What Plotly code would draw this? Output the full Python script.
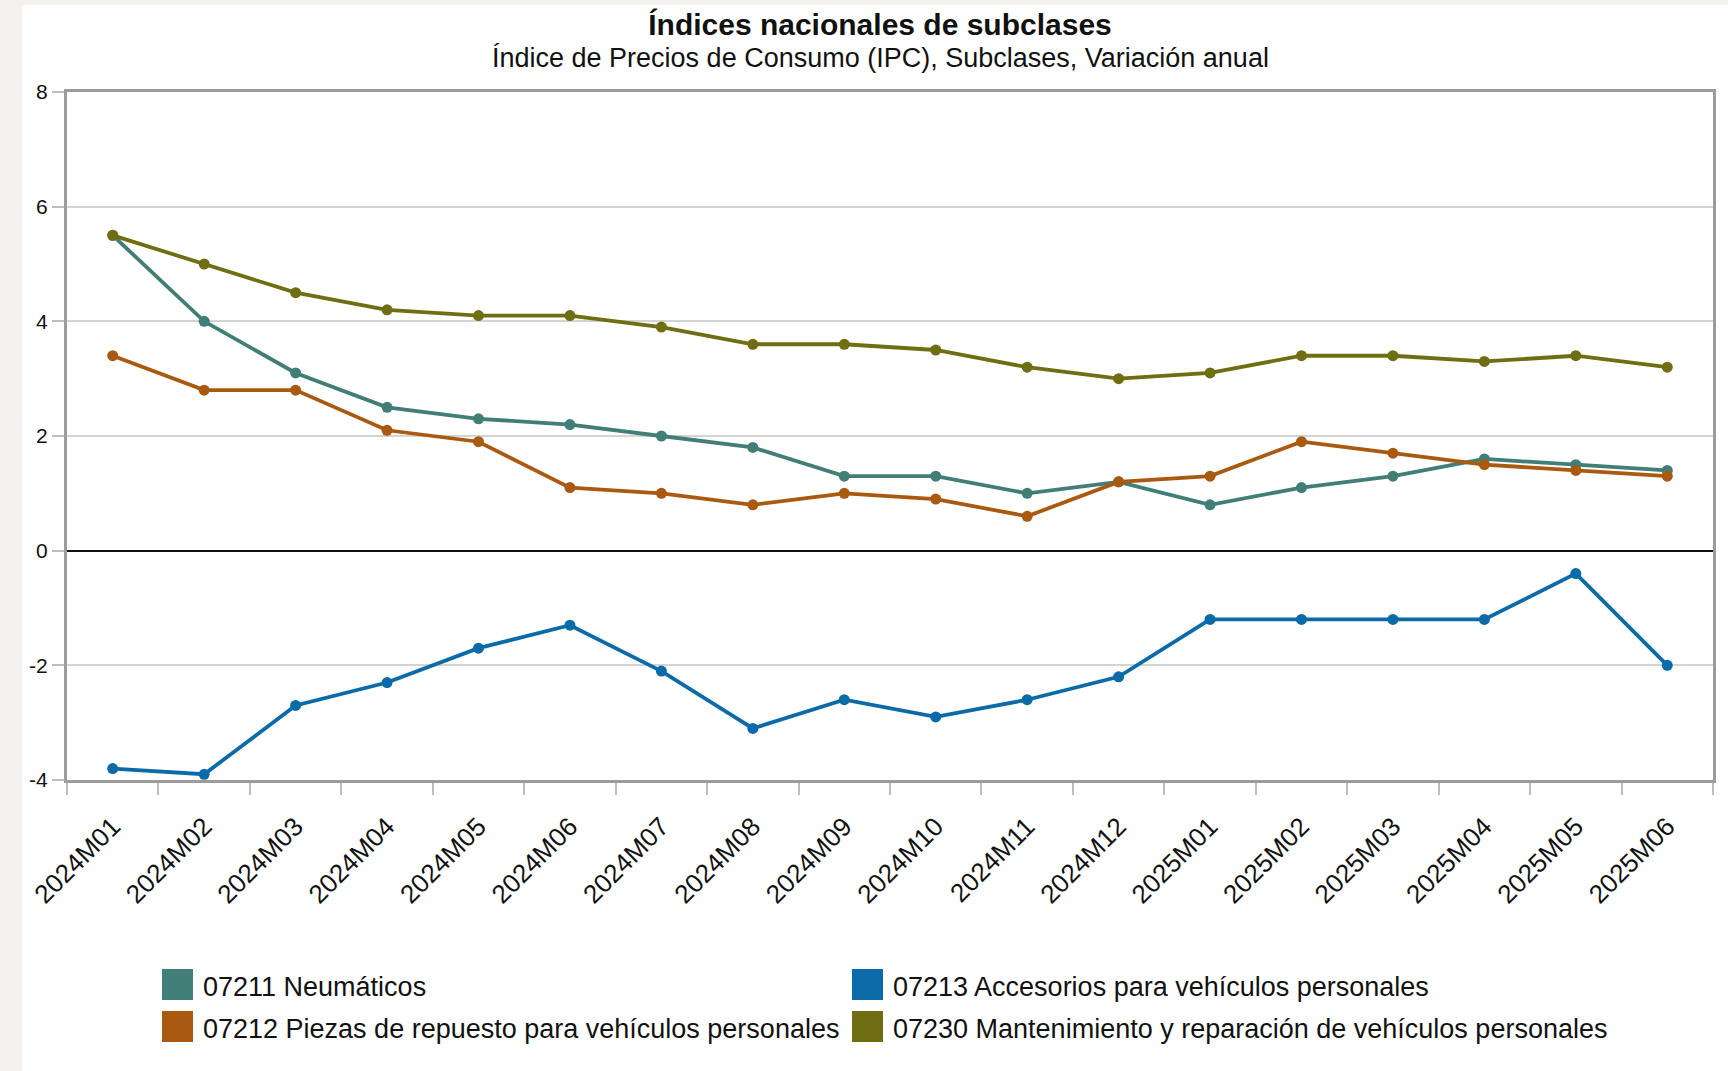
import plotly.graph_objects as go

# ---- data ----
periods = ["2024M01", "2024M02", "2024M03", "2024M04", "2024M05", "2024M06",
           "2024M07", "2024M08", "2024M09", "2024M10", "2024M11", "2024M12",
           "2025M01", "2025M02", "2025M03", "2025M04", "2025M05", "2025M06"]

neumaticos = [5.5, 4.0, 3.1, 2.5, 2.3, 2.2, 2.0, 1.8, 1.3, 1.3, 1.0, 1.2,
              0.8, 1.1, 1.3, 1.6, 1.5, 1.4]
piezas = [3.4, 2.8, 2.8, 2.1, 1.9, 1.1, 1.0, 0.8, 1.0, 0.9, 0.6, 1.2,
          1.3, 1.9, 1.7, 1.5, 1.4, 1.3]
accesorios = [-3.8, -3.9, -2.7, -2.3, -1.7, -1.3, -2.1, -3.1, -2.6, -2.9, -2.6, -2.2,
              -1.2, -1.2, -1.2, -1.2, -0.4, -2.0]
mantenimiento = [5.5, 5.0, 4.5, 4.2, 4.1, 4.1, 3.9, 3.6, 3.6, 3.5, 3.2, 3.0,
                 3.1, 3.4, 3.4, 3.3, 3.4, 3.2]

series_names = ["07211 Neumáticos",
                "07212 Piezas de repuesto para vehículos personales",
                "07213 Accesorios para vehículos personales",
                "07230 Mantenimiento y reparación de vehículos personales"]
series_values = [neumaticos, piezas, accesorios, mantenimiento]
series_colors = ["#417E77", "#A95A10", "#0B6BA8", "#6F6E12"]

y_ticks = [-4, -2, 0, 2, 4, 6, 8]

title = "Índices nacionales de subclases"
subtitle = "Índice de Precios de Consumo (IPC), Subclases, Variación anual"

FONT = "Liberation Sans, Arial, sans-serif"

# ---- layout geometry (px) ----
W, H = 1728, 1071
L, R, T, B = 67, 13, 92, 291

fig = go.Figure()
for name, vals, col in zip(series_names, series_values, series_colors):
    fig.add_trace(go.Scatter(
        x=periods, y=vals, name=name, mode="lines+markers",
        line=dict(color=col, width=3.8),
        marker=dict(color=col, size=11, symbol="circle"),
        showlegend=False,
    ))

# manual legend (two columns, two rows)
legend_pos = [(162, 969), (162, 1011), (852, 969), (852, 1011)]  # order matches series
shapes = []
annotations = []
for (px, py), name, col in zip(legend_pos, series_names, series_colors):
    shapes.append(dict(
        type="rect", xref="paper", yref="paper", xsizemode="pixel", ysizemode="pixel",
        xanchor=0, yanchor=0,
        x0=px - L, x1=px - L + 31, y0=-(py - (H - B)), y1=-(py + 31 - (H - B)),
        fillcolor=col, line=dict(width=0), layer="above",
    ))
    annotations.append(dict(
        xref="paper", yref="paper", x=0, y=0, xanchor="left", yanchor="middle",
        xshift=px + 39 - L, yshift=-(py + 18 - (H - B)),
        text=name, showarrow=False, font=dict(family=FONT, size=27, color="#111111"),
    ))

# page background: white card on beige
shapes.insert(0, dict(
    type="rect", xref="paper", yref="paper", xsizemode="pixel", ysizemode="pixel",
    xanchor=0, yanchor=0, x0=22 - L, x1=W - L, y0=-(B), y1=(H - B) - 5,
    fillcolor="white", line=dict(width=0), layer="below",
))

annotations.append(dict(
    xref="paper", yref="paper", x=0, y=0, xanchor="center", yanchor="middle",
    xshift=880 - L, yshift=(H - B) - 58,
    text=subtitle, showarrow=False, font=dict(family=FONT, size=27, color="#111111"),
))

fig.update_layout(
    width=W, height=H,
    margin=dict(l=L, r=R, t=T, b=B, pad=0),
    paper_bgcolor="#F4F1EE",
    plot_bgcolor="white",
    title=dict(text="<b>" + title + "</b>", x=880 / W, xanchor="center",
               y=1 - 24 / H, yanchor="middle",
               font=dict(family=FONT, size=30, color="#111111")),
    shapes=shapes,
    annotations=annotations,
    showlegend=False,
    xaxis=dict(
        type="category", categoryorder="array", categoryarray=periods,
        range=[-0.5, len(periods) - 0.5],
        showgrid=False, showline=True, linecolor="#9C9C9C", linewidth=3, mirror=True,
        ticks="outside", tickson="boundaries", ticklen=12, tickcolor="#BDBDBD", tickwidth=1.5,
        tickangle=-45, ticklabelstandoff=18,
        tickfont=dict(family=FONT, size=26, color="#111111"),
    ),
    yaxis=dict(
        range=[-4, 8], tickvals=y_ticks, ticktext=[str(v) for v in y_ticks],
        showgrid=True, gridcolor="#D4D4D4", gridwidth=1.5,
        zeroline=True, zerolinecolor="#111111", zerolinewidth=2,
        showline=True, linecolor="#9C9C9C", linewidth=3, mirror=True,
        ticks="outside", ticklen=12, tickcolor="#BDBDBD", tickwidth=1.5,
        ticklabelstandoff=0,
        tickfont=dict(family=FONT, size=21, color="#111111"),
    ),
)

fig.write_html("out.html", config={"displayModeBar": False},
               post_script="document.body.style.margin='0';")
